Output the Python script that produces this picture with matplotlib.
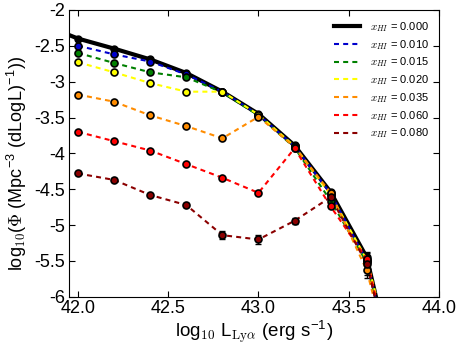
import matplotlib
matplotlib.use('Agg')
import matplotlib.pyplot as plt
import numpy as np

plt.rcParams['font.family'] = ['Liberation Sans', 'DejaVu Sans']
plt.rcParams['mathtext.fontset'] = 'cm'
plt.rcParams['axes.unicode_minus'] = False

# luminosity bins
lum = [42.0, 42.2, 42.4, 42.6, 42.8, 43.0, 43.2, 43.4, 43.6, 43.8]

# x_HI = 0 reference curve (extends a little past the left edge)
lum_ref = [41.9] + lum
phi_ref = [-2.30, -2.40, -2.54, -2.69, -2.88, -3.14, -3.45, -3.89, -4.54, -5.45, -7.6]

labels = ['0.010', '0.015', '0.020', '0.035', '0.060', '0.080']
colors = ['#0000cc', 'green', 'yellow', 'darkorange', 'red', 'darkred']

phi_010 = [-2.50, -2.62, -2.72, -2.90, -3.14, -3.46, -3.90, -4.56, -5.50, -7.6]
phi_015 = [-2.60, -2.74, -2.87, -2.94, -3.15, -3.47, -3.92, -4.66, -5.52, -7.6]
phi_020 = [-2.73, -2.87, -3.02, -3.14, -3.14, -3.46, -3.90, -4.58, -5.48, -7.4]
phi_035 = [-3.18, -3.28, -3.47, -3.62, -3.79, -3.49, -3.91, -4.55, -5.63, -7.6]
phi_060 = [-3.70, -3.83, -3.96, -4.15, -4.34, -4.55, -3.93, -4.74, -5.47, -7.6]
phi_080 = [-4.28, -4.37, -4.58, -4.72, -5.14, -5.20, -4.94, -4.61, -5.54, -7.6]
series = [phi_010, phi_015, phi_020, phi_035, phi_060, phi_080]

err_035 = [0, 0, 0, 0, 0, 0, 0, 0.02, 0.10, 0]
err_060 = [0, 0, 0, 0, 0, 0, 0, 0.02, 0.10, 0]
err_080 = [0.02, 0.02, 0.02, 0.03, 0.06, 0.06, 0.04, 0.03, 0.15, 0]
errors = [None, None, None, err_035, err_060, err_080]

fig = plt.figure(figsize=(4.63, 3.53), dpi=100)
ax = fig.add_axes([0.149, 0.159, 0.799, 0.813])

ax.plot(lum_ref, phi_ref, color='black', linewidth=3, label=r'$x_{HI}$ = 0.000', zorder=2)
ax.plot(lum_ref[1:-1], phi_ref[1:-1], 'o', color='black', markersize=5, zorder=2)

for phi, lab, c, err in zip(series, labels, colors, errors):
    ax.plot(lum, phi, '--', dashes=(2.4, 2.0), color=c, linewidth=1.5,
            label=r'$x_{HI}$ = ' + lab, zorder=3)
    if err is not None:
        ax.errorbar(lum[:-1], phi[:-1], yerr=err[:-1], fmt='none', ecolor='black',
                    elinewidth=1, capsize=2, zorder=3)
    ax.plot(lum[:-1], phi[:-1], 'o', markerfacecolor=c, markeredgecolor='black',
            markeredgewidth=1.2, markersize=5, zorder=4)

ax.set_xlim(41.95, 44.0)
ax.set_ylim(-6, -2)
ax.set_xticks([42.0, 42.5, 43.0, 43.5, 44.0])
ax.set_yticks(np.arange(-6, -1.9, 0.5))
ax.xaxis.set_major_formatter(plt.FuncFormatter(lambda x, _: f'{x:.1f}'))
ax.yaxis.set_major_formatter(plt.FuncFormatter(lambda y, _: f'{y:g}'))
ax.tick_params(direction='in', top=True, right=True, labelsize=13, length=4)
ax.tick_params(axis='x', pad=2)
ax.tick_params(axis='y', pad=3)

ax.set_xlabel(r'log$_{10}$ L$_{\rm Ly\alpha}$ (erg s$^{\mathregular{-1}}$)', fontsize=13.5, labelpad=1)
ax.set_ylabel(r'log$_{10}$($\Phi$ (Mpc$^{\mathregular{-3}}$ (dLogL)$^{\mathregular{-1}}$))', fontsize=13)
ax.yaxis.set_label_coords(-0.108, 0.465)

ax.legend(loc='upper right', frameon=False, fontsize=8, handlelength=2.35,
          handletextpad=0.9, labelspacing=0.35, borderaxespad=0.5)

fig.savefig('out.png', dpi=100)
